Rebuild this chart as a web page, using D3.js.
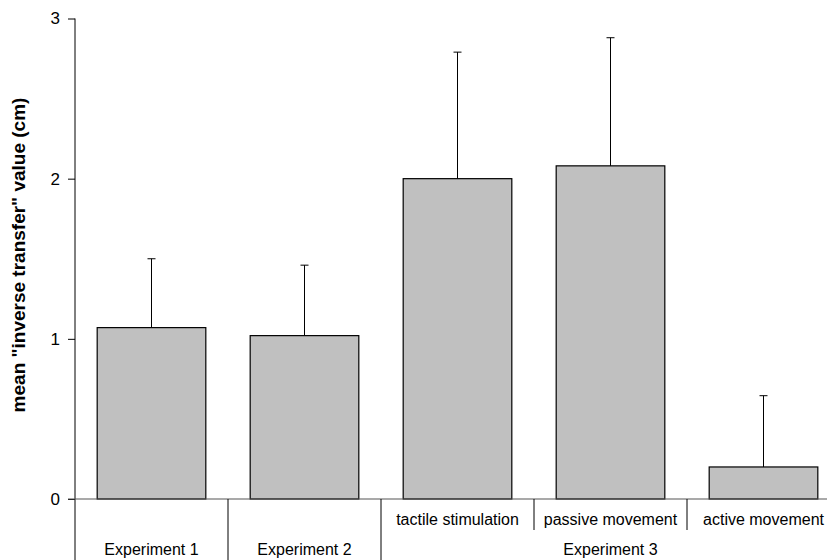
<!DOCTYPE html>
<html>
<head>
<meta charset="utf-8">
<script src="https://cdn.jsdelivr.net/npm/d3@7"></script>
<style>
    html, body { margin: 0; padding: 0; background: #fff; }
    svg { display: block; }
    text { font-family: "Liberation Sans", Arial, sans-serif; fill: #000; }
</style>
</head>
<body>
<div id="chart"></div>
<script>
const conditions = ["Experiment 1", "Experiment 2", "tactile stimulation", "passive movement", "active movement"];
const means = [1.07, 1.02, 2.00, 2.08, 0.20];
const errors = [0.43, 0.44, 0.79, 0.80, 0.445];
const yTicks = [0, 1, 2, 3];
const subLabels = ["", "", "tactile stimulation", "passive movement", "active movement"];
const groups = [
    {label: "Experiment 1", from: 0, to: 0},
    {label: "Experiment 2", from: 1, to: 1},
    {label: "Experiment 3", from: 2, to: 4}
];
const yLabel = "mean \"inverse transfer\" value (cm)";

document.addEventListener("DOMContentLoaded", function() {
    const width = 827, height = 560;
    const svg = d3.select("#chart").append("svg")
        .attr("width", width)
        .attr("height", height);

    const x = d3.scaleBand()
        .domain(conditions)
        .range([75, 840])
        .paddingInner(0.29)
        .paddingOuter(0.145);

    const y = d3.scaleLinear()
        .domain([0, 3])
        .range([499, 18.5]);

    const step = x.step();
    const left = x.range()[0];

    // y axis
    const yAxis = svg.append("g")
        .attr("transform", "translate(75,0)")
        .call(d3.axisLeft(y).tickValues(yTicks).tickFormat(d3.format("d")).tickSize(7).tickPadding(8));
    yAxis.select(".domain").remove();
    yAxis.selectAll("line").attr("stroke", "#000");
    yAxis.selectAll("text").style("font-size", "17px").style("font-family", "'Liberation Sans', Arial, sans-serif");

    svg.append("line")
        .attr("x1", 75).attr("x2", 75)
        .attr("y1", y(3)).attr("y2", height)
        .attr("stroke", "#000");

    // bars
    svg.selectAll("rect.bar")
        .data(conditions)
        .join("rect")
        .attr("class", "bar")
        .attr("x", d => x(d))
        .attr("width", x.bandwidth())
        .attr("y", (d, i) => y(means[i]))
        .attr("height", (d, i) => y(0) - y(means[i]))
        .attr("fill", "#c0c0c0")
        .attr("stroke", "#000")
        .attr("stroke-width", 1.2);

    // error bars (upper only)
    const err = svg.selectAll("g.err")
        .data(conditions)
        .join("g")
        .attr("class", "err");
    err.append("line")
        .attr("x1", d => x(d) + x.bandwidth() / 2)
        .attr("x2", d => x(d) + x.bandwidth() / 2)
        .attr("y1", (d, i) => y(means[i]))
        .attr("y2", (d, i) => y(means[i] + errors[i]))
        .attr("stroke", "#000");
    err.append("line")
        .attr("x1", d => x(d) + x.bandwidth() / 2 - 4)
        .attr("x2", d => x(d) + x.bandwidth() / 2 + 4)
        .attr("y1", (d, i) => y(means[i] + errors[i]))
        .attr("y2", (d, i) => y(means[i] + errors[i]))
        .attr("stroke", "#000");

    // baseline
    svg.append("line")
        .attr("x1", 68).attr("x2", width)
        .attr("y1", y(0)).attr("y2", y(0))
        .attr("stroke", "#555")
        .attr("stroke-width", 1.2);

    // group separators (full height) and sub-label separators (short)
    groups.forEach(g => {
        const gx = left + step * (g.to + 1);
        svg.append("line")
            .attr("x1", gx).attr("x2", gx)
            .attr("y1", y(0)).attr("y2", height)
            .attr("stroke", "#000");
        svg.append("text")
            .attr("x", left + step * (g.from + g.to + 1) / 2)
            .attr("y", 555)
            .attr("text-anchor", "middle")
            .style("font-size", "16px")
            .text(g.label);
        for (let i = g.from + 1; i <= g.to; i++) {
            const sx = left + step * i;
            svg.append("line")
                .attr("x1", sx).attr("x2", sx)
                .attr("y1", y(0)).attr("y2", 530)
                .attr("stroke", "#000");
        }
    });

    svg.selectAll("text.sub")
        .data(subLabels)
        .join("text")
        .attr("class", "sub")
        .attr("x", (d, i) => x(conditions[i]) + x.bandwidth() / 2)
        .attr("y", 525)
        .attr("text-anchor", "middle")
        .style("font-size", "16px")
        .text(d => d);

    svg.append("text")
        .attr("transform", "translate(25," + 255 + ") rotate(-90)")
        .attr("text-anchor", "middle")
        .style("font-size", "19px")
        .style("font-weight", "bold")
        .text(yLabel);
});
</script>
</body>
</html>
